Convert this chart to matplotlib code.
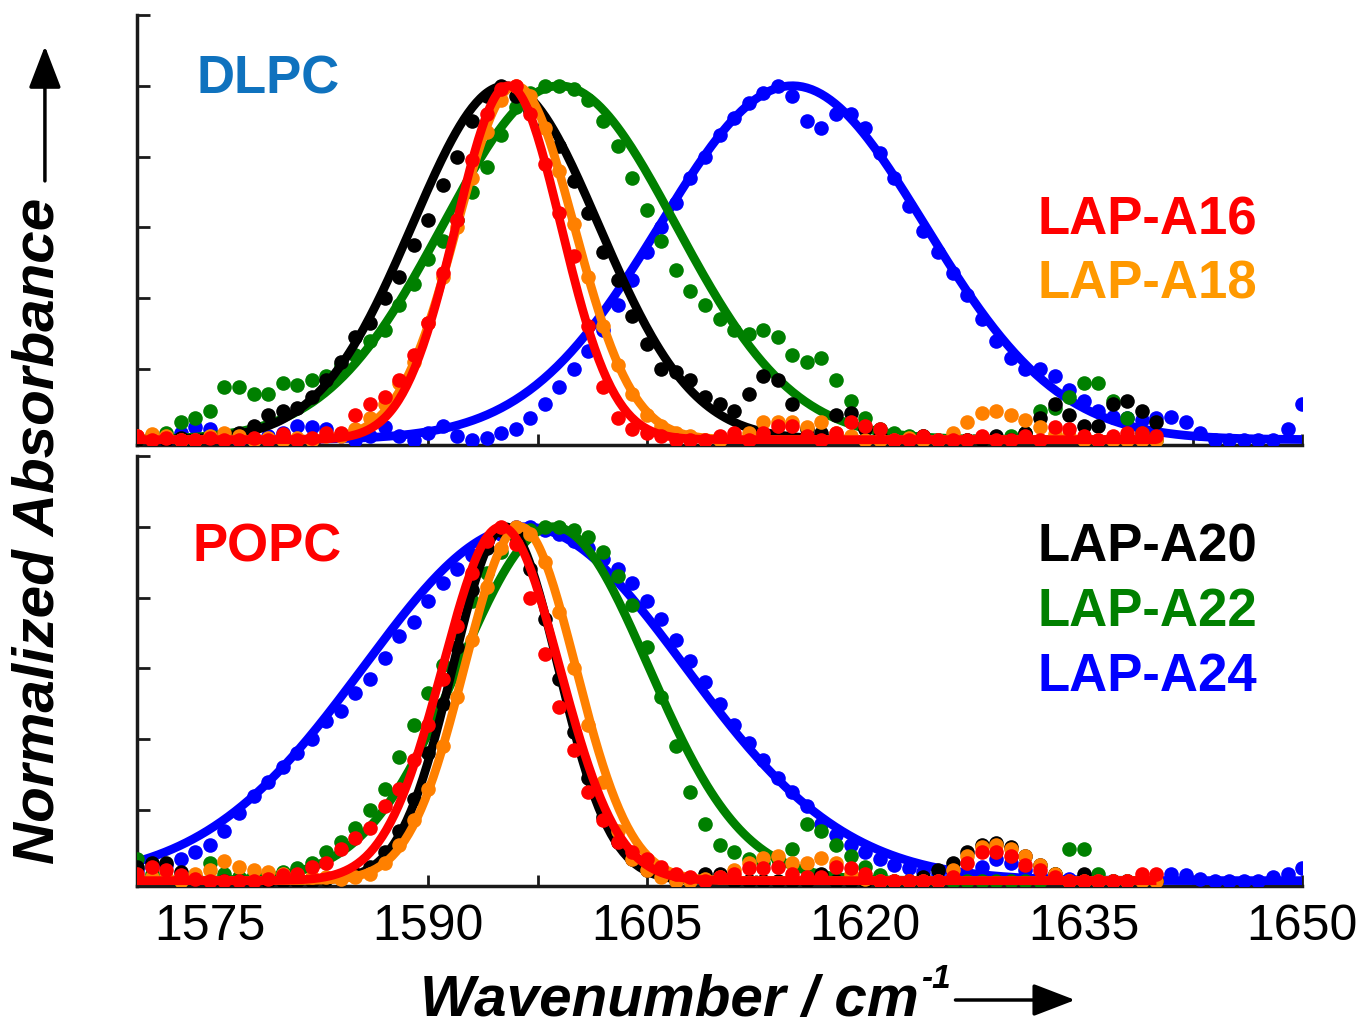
import numpy as np
import matplotlib
matplotlib.use("Agg")
import matplotlib.pyplot as plt
from matplotlib.patches import FancyArrowPatch
from matplotlib.ticker import MultipleLocator

plt.rcParams['font.family'] = ['Liberation Sans', 'DejaVu Sans']

# ---------------- data ----------------
wn = np.arange(1570, 1641)        # wavenumber grid (cm-1) of the measured points
wn_long = np.arange(1570, 1651)   # LAP-A24 points extend to 1650

peptides = ["LAP-A16", "LAP-A18", "LAP-A20", "LAP-A22", "LAP-A24"]
colors = {"LAP-A16": "#FF0000", "LAP-A18": "#FF8000", "LAP-A20": "#000000",
          "LAP-A22": "#008000", "LAP-A24": "#0000FF"}
label_colors = {"LAP-A16": "#FF0000", "LAP-A18": "#FF9900", "LAP-A20": "#000000",
                "LAP-A22": "#008000", "LAP-A24": "#0000FF"}

# DLPC (top panel) measured points
dlpc_a20 = [0.0, 0.0, 0.0, 0.005, 0.0, 0.005, 0.01, 0.02, 0.04, 0.07,
            0.08, 0.09, 0.12, 0.17, 0.22, 0.29, 0.33, 0.40, 0.46, 0.55,
            0.62, 0.72, 0.80, 0.90, 0.97, 1.0, 0.97, 0.93, 0.89, 0.83,
            0.73, 0.64, 0.53, 0.45, 0.35, 0.27, 0.20, 0.19, 0.17, 0.12,
            0.10, 0.08, 0.13, 0.18, 0.17, 0.10, 0.03, 0.02, 0.07, 0.075,
            0.03, 0.01, 0.0, 0.0, 0.01, 0.0, 0.0, 0.0, 0.0, 0.01,
            0.0, 0.02, 0.06, 0.10, 0.07, 0.04, 0.04, 0.10, 0.11, 0.08, 0.05]
dlpc_a16 = [0.01, 0.0, 0.005, 0.0, 0.0, 0.005, 0.0, 0.0, 0.005, 0.0,
            0.015, 0.0, 0.005, 0.02, 0.02, 0.07, 0.10, 0.12, 0.17, 0.24,
            0.33, 0.47, 0.62, 0.79, 0.92, 0.99, 1.0, 0.92, 0.78, 0.64,
            0.52, 0.32, 0.15, 0.06, 0.03, 0.02, 0.01, 0.0, 0.0, 0.0,
            0.01, 0.02, 0.0, 0.02, 0.04, 0.04, 0.01, 0.0, 0.02, 0.05,
            0.04, 0.03, 0.0, 0.0, 0.01, 0.0, 0.0, 0.0, 0.01, 0.0,
            0.0, 0.01, 0.0, 0.035, 0.03, 0.01, 0.0, 0.01, 0.02, 0.02, 0.01]
dlpc_a18 = [0.01, 0.015, 0.01, 0.0, 0.0, 0.01, 0.02, 0.01, 0.0, 0.005,
            0.0, 0.005, 0.0, 0.01, 0.01, 0.03, 0.06, 0.10, 0.16, 0.22,
            0.33, 0.46, 0.60, 0.74, 0.87, 0.96, 1.0, 0.97, 0.88, 0.76,
            0.61, 0.46, 0.32, 0.21, 0.13, 0.07, 0.04, 0.02, 0.01, 0.0,
            0.0, 0.01, 0.02, 0.05, 0.05, 0.05, 0.035, 0.05, 0.02, 0.01,
            0.0, 0.0, 0.0, 0.005, 0.0, 0.0, 0.02, 0.05, 0.075, 0.08,
            0.07, 0.055, 0.035, 0.015, 0.01, 0.0, 0.0, 0.0, 0.0, 0.0, 0.0]
dlpc_a22 = [0.0, 0.01, 0.02, 0.05, 0.06, 0.08, 0.15, 0.15, 0.13, 0.13,
            0.16, 0.155, 0.17, 0.18, 0.21, 0.24, 0.28, 0.31, 0.38, 0.44,
            0.51, 0.56, 0.62, 0.70, 0.77, 0.86, 0.94, 0.98, 1.0, 1.0,
            0.99, 0.96, 0.90, 0.83, 0.74, 0.65, 0.56, 0.48, 0.42, 0.38,
            0.34, 0.31, 0.30, 0.31, 0.29, 0.24, 0.22, 0.23, 0.17, 0.11,
            0.06, 0.03, 0.02, 0.01, 0.01, 0.0, 0.0, 0.0, 0.0, 0.005,
            0.01, 0.02, 0.08, 0.09, 0.12, 0.16, 0.16, 0.11, 0.06, 0.02, 0.0]
dlpc_a24 = [0.0, 0.01, 0.0, 0.02, 0.035, 0.03, 0.01, 0.0, 0.0, 0.01,
            0.02, 0.04, 0.035, 0.03, 0.01, 0.0, 0.01, 0.035, 0.01, 0.0,
            0.02, 0.04, 0.01, 0.0, 0.005, 0.02, 0.03, 0.06, 0.10, 0.15,
            0.20, 0.25, 0.31, 0.38, 0.45, 0.53, 0.60, 0.67, 0.74, 0.80,
            0.86, 0.91, 0.95, 0.98, 1.0, 0.97, 0.90, 0.88, 0.92, 0.92,
            0.88, 0.81, 0.74, 0.66, 0.59, 0.53, 0.47, 0.41, 0.34, 0.28,
            0.23, 0.20, 0.20, 0.18, 0.14, 0.11, 0.08, 0.065, 0.06, 0.055,
            0.06, 0.065, 0.05, 0.02, 0.0, 0.0, 0.0, 0.0, 0.0, 0.03, 0.10]

# POPC (bottom panel) measured points
popc_a16 = [0.02, 0.04, 0.03, 0.015, 0.005, 0.0, 0.0, 0.0, 0.0, 0.005,
            0.015, 0.02, 0.04, 0.05, 0.09, 0.12, 0.15, 0.21, 0.26, 0.34,
            0.44, 0.57, 0.72, 0.87, 0.96, 1.0, 0.95, 0.80, 0.64, 0.49,
            0.37, 0.25, 0.17, 0.11, 0.08, 0.06, 0.04, 0.02, 0.01, 0.0,
            0.01, 0.02, 0.035, 0.035, 0.04, 0.02, 0.01, 0.01, 0.04, 0.035,
            0.02, 0.0, 0.0, 0.0, 0.0, 0.0, 0.01, 0.05, 0.08, 0.08,
            0.07, 0.045, 0.03, 0.01, 0.0, 0.0, 0.0, 0.0, 0.0, 0.02, 0.02]
popc_a20 = [0.04, 0.05, 0.05, 0.025, 0.01, 0.0, 0.0, 0.0, 0.0, 0.0,
            0.0, 0.0, 0.0, 0.005, 0.01, 0.02, 0.04, 0.08, 0.14, 0.23,
            0.36, 0.50, 0.66, 0.82, 0.94, 0.99, 0.98, 0.88, 0.74, 0.57,
            0.42, 0.29, 0.18, 0.11, 0.06, 0.03, 0.015, 0.0, 0.0, 0.02,
            0.02, 0.0, 0.0, 0.0, 0.0, 0.0, 0.0, 0.02, 0.0, 0.0,
            0.0, 0.0, 0.0, 0.0, 0.01, 0.03, 0.05, 0.08, 0.10, 0.105,
            0.095, 0.07, 0.045, 0.02, 0.0, 0.02, 0.0, 0.0, 0.0, 0.0, 0.0]
popc_a18 = [0.01, 0.01, 0.01, 0.0, 0.02, 0.03, 0.055, 0.04, 0.03, 0.025,
            0.02, 0.015, 0.01, 0.01, 0.005, 0.01, 0.02, 0.05, 0.10, 0.17,
            0.26, 0.38, 0.52, 0.68, 0.83, 0.94, 1.0, 0.98, 0.90, 0.76,
            0.60, 0.44, 0.28, 0.14, 0.06, 0.03, 0.01, 0.0, 0.0, 0.005,
            0.01, 0.03, 0.05, 0.065, 0.07, 0.05, 0.05, 0.065, 0.05, 0.02,
            0.005, 0.0, 0.0, 0.0, 0.0, 0.0, 0.03, 0.07, 0.095, 0.10,
            0.09, 0.07, 0.045, 0.02, 0.0, 0.0, 0.0, 0.0, 0.0, 0.0, 0.0]
popc_a22 = [0.06, 0.02, 0.01, 0.0, 0.01, 0.05, 0.02, 0.01, 0.015, 0.02,
            0.025, 0.035, 0.05, 0.08, 0.11, 0.15, 0.20, 0.26, 0.35, 0.44,
            0.53, 0.61, 0.70, 0.79, 0.87, 0.93, 0.97, 0.99, 1.0, 1.0,
            0.99, 0.97, 0.93, 0.86, 0.78, 0.66, 0.52, 0.38, 0.25, 0.16,
            0.10, 0.08, 0.06, 0.05, 0.06, 0.09, 0.16, 0.14, 0.10, 0.07,
            0.04, 0.015, 0.0, 0.0, 0.0, 0.0, 0.0, 0.0, 0.0, 0.0,
            0.0, 0.0, 0.0, 0.02, 0.09, 0.09, 0.02, 0.0, 0.0, 0.0, 0.0]
popc_a24 = [0.03, 0.04, 0.045, 0.06, 0.08, 0.10, 0.14, 0.19, 0.24, 0.28,
            0.32, 0.36, 0.40, 0.45, 0.48, 0.53, 0.57, 0.63, 0.69, 0.73,
            0.79, 0.84, 0.88, 0.92, 0.96, 0.98, 1.0, 1.0, 0.99, 0.98,
            0.96, 0.94, 0.91, 0.88, 0.84, 0.79, 0.74, 0.68, 0.62, 0.56,
            0.50, 0.44, 0.39, 0.34, 0.29, 0.25, 0.21, 0.16, 0.13, 0.10,
            0.08, 0.06, 0.045, 0.035, 0.025, 0.02, 0.015, 0.02, 0.04, 0.06,
            0.05, 0.03, 0.015, 0.01, 0.005, 0.01, 0.0, 0.0, 0.0, 0.0,
            0.0, 0.02, 0.015, 0.005, 0.0, 0.0, 0.0, 0.0, 0.01, 0.02, 0.035]

# Gaussian fit parameters (centre, sigma)
dlpc_fit_center = {"LAP-A16": 1595.5, "LAP-A18": 1596.0, "LAP-A20": 1595.3,
                   "LAP-A22": 1599.0, "LAP-A24": 1615.0}
dlpc_fit_sigma = {"LAP-A16": 3.6, "LAP-A18": 4.0, "LAP-A20": 6.4,
                  "LAP-A22": 8.0, "LAP-A24": 9.1}
popc_fit_center = {"LAP-A16": 1595.0, "LAP-A18": 1596.3, "LAP-A20": 1595.3,
                   "LAP-A22": 1598.6, "LAP-A24": 1596.6}
popc_fit_sigma = {"LAP-A16": 4.0, "LAP-A18": 3.8, "LAP-A20": 3.6,
                  "LAP-A22": 6.5, "LAP-A24": 11.0}

dlpc_points = {"LAP-A16": (wn, dlpc_a16), "LAP-A18": (wn, dlpc_a18),
               "LAP-A20": (wn, dlpc_a20), "LAP-A22": (wn, dlpc_a22),
               "LAP-A24": (wn_long, dlpc_a24)}
popc_points = {"LAP-A16": (wn, popc_a16), "LAP-A18": (wn, popc_a18),
               "LAP-A20": (wn, popc_a20), "LAP-A22": (wn, popc_a22),
               "LAP-A24": (wn_long, popc_a24)}

draw_order = ["LAP-A24", "LAP-A22", "LAP-A20", "LAP-A18", "LAP-A16"]
xticks = [1575, 1590, 1605, 1620, 1635, 1650]

# ---------------- figure ----------------
fig = plt.figure(figsize=(13.61, 10.32), dpi=100)
ax_top = fig.add_axes([0.1007, 0.5688, 0.8560, 0.4167])
ax_bot = fig.add_axes([0.1007, 0.1415, 0.8560, 0.4167])


def draw_panel(ax, points, centers, sigmas):
    for i, name in enumerate(draw_order):
        x, y = points[name]
        c = colors[name]
        ax.plot(x, y, 'o', ms=10.5, mew=0, color=c, zorder=2 + 2 * i)
        xf = np.linspace(x[0], x[-1], 500)
        yf = np.exp(-(xf - centers[name]) ** 2 / (2 * sigmas[name] ** 2))
        ax.plot(xf, yf, '-', lw=6.3, color=c, zorder=3 + 2 * i,
                solid_capstyle='butt')
    ax.set_xlim(1570, 1650)
    ax.set_ylim(-0.015, 1.2)
    ax.set_xticks(xticks)
    ax.xaxis.set_minor_locator(MultipleLocator(7.5))
    ax.yaxis.set_major_locator(MultipleLocator(0.2))
    for s in ['top', 'right']:
        ax.spines[s].set_visible(False)
    for s in ['left', 'bottom']:
        ax.spines[s].set_linewidth(2.5)
        ax.spines[s].set_color('#1a1a1a')
        ax.spines[s].set_zorder(1)
    ax.tick_params(axis='y', which='both', direction='in', length=9, width=2,
                   labelleft=False, color='#1a1a1a')
    ax.tick_params(axis='x', which='major', direction='in', length=8, width=2,
                   color='#1a1a1a', labelsize=36, pad=13)
    ax.tick_params(axis='x', which='minor', direction='in', length=8, width=2,
                   color='#1a1a1a')


draw_panel(ax_top, dlpc_points, dlpc_fit_center, dlpc_fit_sigma)
draw_panel(ax_bot, popc_points, popc_fit_center, popc_fit_sigma)
ax_top.tick_params(axis='x', labelbottom=False)

# panel labels
ax_top.text(0.0506, 0.849, "DLPC", transform=ax_top.transAxes, color="#0F72BE",
            fontsize=38, fontweight='bold', ha='left', va='center')
ax_bot.text(0.048, 0.788, "POPC", transform=ax_bot.transAxes, color="#FF0000",
            fontsize=38, fontweight='bold', ha='left', va='center')

# legend-like coloured labels
ax_top.text(0.773, 0.523, "LAP-A16", transform=ax_top.transAxes,
            color=label_colors["LAP-A16"], fontsize=38, fontweight='bold',
            ha='left', va='center')
ax_top.text(0.773, 0.374, "LAP-A18", transform=ax_top.transAxes,
            color=label_colors["LAP-A18"], fontsize=38, fontweight='bold',
            ha='left', va='center')
ax_bot.text(0.773, 0.786, "LAP-A20", transform=ax_bot.transAxes,
            color=label_colors["LAP-A20"], fontsize=38, fontweight='bold',
            ha='left', va='center')
ax_bot.text(0.773, 0.637, "LAP-A22", transform=ax_bot.transAxes,
            color=label_colors["LAP-A22"], fontsize=38, fontweight='bold',
            ha='left', va='center')
ax_bot.text(0.773, 0.486, "LAP-A24", transform=ax_bot.transAxes,
            color=label_colors["LAP-A24"], fontsize=38, fontweight='bold',
            ha='left', va='center')

# axis titles with arrows
fig.text(0.028, 0.486, "Normalized Absorbance", rotation=90, fontsize=42,
         fontweight='bold', fontstyle='italic', ha='center', va='center')
fig.text(0.675, 0.0155, "Wavenumber / cm", fontsize=42,
         fontweight='bold', fontstyle='italic', ha='right', va='baseline')
fig.text(0.677, 0.043, "-1", fontsize=24,
         fontweight='bold', fontstyle='italic', ha='left', va='baseline')

arr_y = FancyArrowPatch((0.033, 0.822), (0.033, 0.958), transform=fig.transFigure,
                        arrowstyle='-|>,head_length=1.3,head_width=0.5',
                        mutation_scale=20, lw=2.5, color='black')
arr_x = FancyArrowPatch((0.700, 0.031), (0.792, 0.031), transform=fig.transFigure,
                        arrowstyle='-|>,head_length=1.3,head_width=0.5',
                        mutation_scale=20, lw=2.5, color='black')
fig.add_artist(arr_y)
fig.add_artist(arr_x)

fig.savefig("out.png", dpi=100)
